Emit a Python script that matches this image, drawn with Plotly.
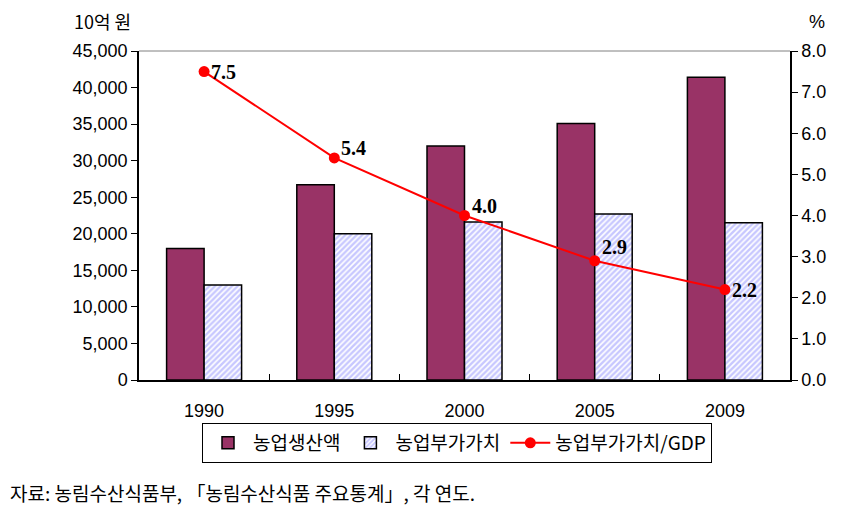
import plotly.graph_objects as go

years = ["1990", "1995", "2000", "2005", "2009"]
production = [18000, 26700, 32000, 35100, 41400]
value_added = [13000, 20000, 21600, 22700, 21500]
va_gdp = [7.5, 5.4, 4.0, 2.9, 2.2]
label_yshift = [0, 10, 10, 14, 0]

name_prod = "농업생산액"
name_va = "농업부가가치"
name_ratio = "농업부가가치/GDP"

font_family = "Liberation Sans, Arial, Noto Sans CJK KR"
kfont = "Noto Sans CJK KR, Liberation Sans"

# page body has an 8px margin; plot area target: x 139..790, y 51..380
PL, PR, PT, PB = 139, 790, 51, 380
PW, PH = PR - PL, PB - PT

fig = go.Figure()
fig.add_trace(go.Bar(
    x=years, y=production, name=name_prod,
    marker=dict(color="#993366", line=dict(color="black", width=1.5)),
))
fig.add_trace(go.Bar(
    x=years, y=value_added, name=name_va,
    marker=dict(color="white", line=dict(color="black", width=1.5),
                pattern=dict(shape="/", fgcolor="#9090FF", bgcolor="white",
                             size=4, solidity=0.6)),
))
fig.add_trace(go.Scatter(
    x=years, y=va_gdp, name=name_ratio, yaxis="y2",
    mode="lines+markers",
    line=dict(color="#FF0000", width=2),
    marker=dict(color="#FF0000", size=11),
))

for i, (v, ys) in enumerate(zip(va_gdp, label_yshift)):
    fig.add_annotation(x=i, y=v, xref="x", yref="y2", text=f"{v:.1f}",
                       showarrow=False, xanchor="left", yanchor="middle",
                       xshift=5, yshift=ys,
                       font=dict(family="Liberation Serif, Times New Roman", size=20,
                                 color="black", weight="bold"))

fig.add_annotation(x=(72 - PL) / PW, y=(PB - 21) / PH, xref="paper", yref="paper",
                   xanchor="left", yanchor="middle", text="10억 원", showarrow=False,
                   font=dict(family=kfont, size=18, color="black"))
fig.add_annotation(x=(807 - PL) / PW, y=(PB - 22) / PH, xref="paper", yref="paper",
                   xanchor="left", yanchor="middle", text="%", showarrow=False,
                   font=dict(family=font_family, size=18, color="black"))
fig.add_annotation(x=(8 - PL) / PW, y=(PB - 492) / PH, xref="paper", yref="paper",
                   text="자료: 농림수산식품부, 「농림수산식품 주요통계」, 각 연도.",
                   showarrow=False, xanchor="left", yanchor="middle",
                   font=dict(family=kfont, size=19, color="black"))

fig.add_shape(type="line", xref="paper", yref="paper", x0=0, x1=1, y0=1, y1=1,
              line=dict(color="#808080", width=1))

fig.update_layout(
    width=836, height=508,
    margin=dict(l=PL - 8, r=844 - PR, t=PT - 8, b=516 - PB),
    paper_bgcolor="white", plot_bgcolor="white",
    barmode="group", bargap=0.424, bargroupgap=0,
    font=dict(family=font_family, size=18, color="black"),
    showlegend=True,
    legend=dict(orientation="h", x=(457 - PL) / PW, xanchor="center",
                y=(PB - 423) / PH, yanchor="top",
                bordercolor="black", borderwidth=1, bgcolor="white",
                font=dict(family=kfont, size=19), itemwidth=40,
                traceorder="normal"),
    xaxis=dict(type="category", range=[-0.5, 4.5], showline=True, linecolor="black",
               linewidth=2, ticks="inside", tickson="boundaries", ticklen=6,
               tickcolor="black", showgrid=False, ticklabelstandoff=13,
               tickfont=dict(family=font_family, size=18)),
    yaxis=dict(range=[0, 45000], dtick=5000, tickformat=",d", showline=True,
               linecolor="black", linewidth=1.5, ticks="outside", ticklen=6,
               tickcolor="black", showgrid=False, zeroline=False,
               tickfont=dict(family=font_family, size=18)),
    yaxis2=dict(range=[0, 8], dtick=1, tickformat=".1f", overlaying="y", side="right",
                showline=True, linecolor="black", linewidth=1.5, ticks="outside",
                ticklen=6, tickcolor="black", showgrid=False, zeroline=False,
                tickfont=dict(family=font_family, size=18)),
)

fig.write_html("out.html")
